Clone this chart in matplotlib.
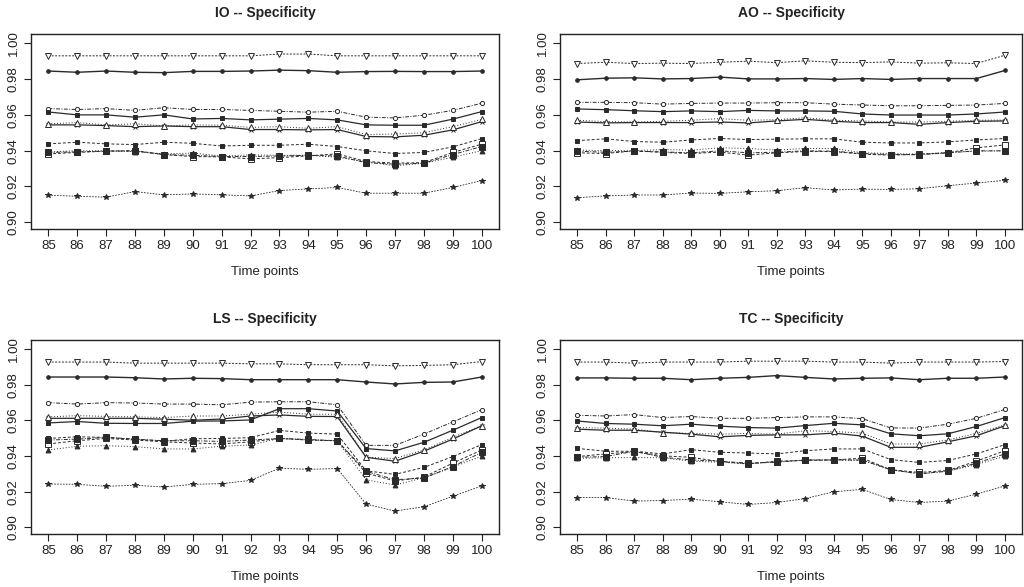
import matplotlib
matplotlib.use("Agg")
import matplotlib.pyplot as plt

plt.rcParams['font.family'] = ['Liberation Sans', 'DejaVu Sans']

time_points = list(range(85, 101))
y_ticks = [0.90, 0.92, 0.94, 0.96, 0.98, 1.00]
panel_titles = ["IO -- Specificity", "AO -- Specificity", "LS -- Specificity", "TC -- Specificity"]
x_label = "Time points"

# ---------------- IO ----------------
io_a = [0.993, 0.993, 0.993, 0.993, 0.993, 0.993, 0.993, 0.993, 0.994, 0.994, 0.993, 0.993, 0.993, 0.993, 0.993, 0.993]
io_b = [0.9845, 0.9838, 0.9845, 0.9838, 0.9836, 0.9843, 0.9843, 0.9845, 0.985, 0.9847, 0.9838, 0.9842, 0.9843, 0.9842, 0.9842, 0.9845]
io_c = [0.9635, 0.963, 0.9635, 0.9625, 0.964, 0.963, 0.963, 0.9625, 0.962, 0.9615, 0.962, 0.9587, 0.9583, 0.9598, 0.9625, 0.9665]
io_d = [0.9616, 0.960, 0.960, 0.9587, 0.960, 0.9577, 0.958, 0.9572, 0.9576, 0.958, 0.9572, 0.9544, 0.9542, 0.9542, 0.9576, 0.9618]
io_e = [0.9544, 0.9544, 0.954, 0.9534, 0.9538, 0.9534, 0.9534, 0.9518, 0.9518, 0.9516, 0.9518, 0.9479, 0.9477, 0.9486, 0.9516, 0.9562]
io_f = [0.955, 0.9557, 0.9544, 0.955, 0.9538, 0.9544, 0.9542, 0.953, 0.9534, 0.9525, 0.9534, 0.949, 0.9493, 0.950, 0.9534, 0.9575]
io_g = [0.9438, 0.9447, 0.9438, 0.9434, 0.9447, 0.9441, 0.9426, 0.943, 0.943, 0.9436, 0.9423, 0.9399, 0.9384, 0.939, 0.9421, 0.9467]
io_h = [0.9382, 0.939, 0.9397, 0.940, 0.9378, 0.9367, 0.9365, 0.9354, 0.9361, 0.9371, 0.9382, 0.9339, 0.933, 0.9333, 0.939, 0.9436]
io_i = [0.9393, 0.940, 0.9398, 0.9395, 0.9382, 0.9386, 0.937, 0.9376, 0.9374, 0.9374, 0.9363, 0.9339, 0.9315, 0.933, 0.9363, 0.940]
io_j = [0.939, 0.9393, 0.9398, 0.9398, 0.9378, 0.9374, 0.9367, 0.9367, 0.937, 0.9374, 0.937, 0.9333, 0.9324, 0.933, 0.9378, 0.9423]
io_k = [0.9151, 0.9145, 0.914, 0.9171, 0.9153, 0.9158, 0.9153, 0.9147, 0.9177, 0.9186, 0.9194, 0.9162, 0.9162, 0.9162, 0.9194, 0.9233]

# ---------------- AO ----------------
ao_a = [0.9887, 0.9894, 0.9887, 0.9889, 0.9887, 0.9894, 0.990, 0.9892, 0.9902, 0.9894, 0.9892, 0.9896, 0.9889, 0.9891, 0.9887, 0.9933]
ao_b = [0.9796, 0.9805, 0.9807, 0.9801, 0.9803, 0.9811, 0.9801, 0.9801, 0.9803, 0.9798, 0.9803, 0.9798, 0.9803, 0.9803, 0.9803, 0.9848]
ao_c = [0.967, 0.967, 0.9668, 0.966, 0.9664, 0.9666, 0.9666, 0.9668, 0.9668, 0.966, 0.9655, 0.9651, 0.9651, 0.9653, 0.9655, 0.9664]
ao_d = [0.9633, 0.9629, 0.9623, 0.9618, 0.9622, 0.9618, 0.9625, 0.9622, 0.9622, 0.962, 0.9605, 0.9599, 0.9599, 0.9599, 0.9605, 0.9616]
ao_e = [0.956, 0.9555, 0.9557, 0.9557, 0.9557, 0.956, 0.9555, 0.9566, 0.9575, 0.9564, 0.9557, 0.9557, 0.9547, 0.9557, 0.9564, 0.9566]
ao_f = [0.957, 0.9562, 0.956, 0.9564, 0.957, 0.9579, 0.957, 0.9573, 0.9584, 0.957, 0.9566, 0.956, 0.956, 0.9564, 0.957, 0.9571]
ao_g = [0.9456, 0.9466, 0.9451, 0.9447, 0.946, 0.9468, 0.9462, 0.9464, 0.9466, 0.9466, 0.9447, 0.9443, 0.9443, 0.9449, 0.946, 0.9468]
ao_h = [0.9388, 0.9384, 0.9399, 0.939, 0.9384, 0.9392, 0.9375, 0.9388, 0.9395, 0.9395, 0.938, 0.9375, 0.938, 0.9388, 0.9416, 0.9432]
ao_i = [0.9403, 0.940, 0.940, 0.9406, 0.9403, 0.9416, 0.9412, 0.9403, 0.9412, 0.9412, 0.9388, 0.9384, 0.938, 0.939, 0.9397, 0.9399]
ao_j = [0.9397, 0.9391, 0.9397, 0.9393, 0.9388, 0.9399, 0.9388, 0.9391, 0.9399, 0.9397, 0.9384, 0.9378, 0.9377, 0.9388, 0.9399, 0.9399]
ao_k = [0.9137, 0.9147, 0.9152, 0.9152, 0.9163, 0.9161, 0.917, 0.9176, 0.9193, 0.918, 0.9185, 0.9183, 0.9187, 0.9204, 0.9219, 0.9234]

# ---------------- LS ----------------
ls_a = [0.9928, 0.9928, 0.9928, 0.9922, 0.9922, 0.9922, 0.9922, 0.9918, 0.9918, 0.9913, 0.9913, 0.9913, 0.9907, 0.9909, 0.9913, 0.9931]
ls_b = [0.9844, 0.9844, 0.9844, 0.984, 0.9833, 0.9837, 0.9835, 0.9829, 0.9829, 0.9829, 0.9829, 0.9816, 0.9805, 0.9814, 0.9816, 0.9844]
ls_c = [0.970, 0.9692, 0.970, 0.9698, 0.9692, 0.9692, 0.9688, 0.9703, 0.9705, 0.9705, 0.9688, 0.946, 0.946, 0.9523, 0.9592, 0.966]
ls_d = [0.9586, 0.9594, 0.9584, 0.9583, 0.9583, 0.9596, 0.9597, 0.9603, 0.9666, 0.9666, 0.9653, 0.9442, 0.9429, 0.9477, 0.9545, 0.9616]
ls_e = [0.9612, 0.9612, 0.9612, 0.9612, 0.9607, 0.9601, 0.9608, 0.9625, 0.9631, 0.9623, 0.9622, 0.9393, 0.9371, 0.9427, 0.9495, 0.957]
ls_f = [0.962, 0.9627, 0.9623, 0.962, 0.9616, 0.9625, 0.9625, 0.9635, 0.9647, 0.9635, 0.9635, 0.9393, 0.9386, 0.9434, 0.9505, 0.9571]
ls_g = [0.9499, 0.9508, 0.9505, 0.9494, 0.9484, 0.9497, 0.9499, 0.9503, 0.9544, 0.9529, 0.9523, 0.9317, 0.9297, 0.9336, 0.9397, 0.9464]
ls_h = [0.9468, 0.9486, 0.9499, 0.949, 0.948, 0.9473, 0.9468, 0.948, 0.9499, 0.949, 0.9486, 0.9304, 0.926, 0.9282, 0.936, 0.9434]
ls_i = [0.9434, 0.9455, 0.9458, 0.9453, 0.944, 0.944, 0.9455, 0.9462, 0.9499, 0.949, 0.9486, 0.9267, 0.9237, 0.9278, 0.9338, 0.9399]
ls_j = [0.949, 0.9495, 0.9505, 0.9495, 0.9486, 0.9486, 0.9482, 0.949, 0.9499, 0.9493, 0.9486, 0.9314, 0.9267, 0.9276, 0.9341, 0.9421]
ls_k = [0.9243, 0.9241, 0.923, 0.9236, 0.9226, 0.9241, 0.9245, 0.9263, 0.9332, 0.9325, 0.933, 0.913, 0.9091, 0.9115, 0.9174, 0.9232]

# ---------------- TC ----------------
tc_a = [0.9928, 0.9928, 0.9922, 0.9928, 0.9928, 0.9928, 0.9933, 0.9933, 0.9933, 0.9928, 0.9928, 0.9922, 0.9928, 0.9928, 0.9928, 0.9931]
tc_b = [0.9839, 0.9839, 0.9837, 0.9837, 0.9829, 0.9837, 0.9842, 0.9852, 0.9842, 0.9833, 0.9837, 0.9839, 0.9829, 0.9837, 0.9837, 0.9844]
tc_c = [0.9629, 0.9625, 0.9633, 0.9616, 0.9622, 0.9612, 0.9612, 0.9616, 0.962, 0.962, 0.961, 0.9558, 0.9557, 0.9579, 0.9612, 0.9662]
tc_d = [0.9597, 0.9583, 0.9579, 0.957, 0.9579, 0.9568, 0.956, 0.9557, 0.9571, 0.9584, 0.9575, 0.9525, 0.9514, 0.9525, 0.9566, 0.9616]
tc_e = [0.9551, 0.9545, 0.9545, 0.9534, 0.9523, 0.9508, 0.9516, 0.9519, 0.9519, 0.9529, 0.9512, 0.9449, 0.9449, 0.948, 0.9514, 0.957]
tc_f = [0.956, 0.9557, 0.9551, 0.9532, 0.9527, 0.9523, 0.9527, 0.9523, 0.9542, 0.9538, 0.9529, 0.9468, 0.9468, 0.949, 0.9527, 0.9575]
tc_g = [0.9443, 0.9427, 0.9427, 0.9412, 0.9436, 0.9421, 0.9417, 0.9412, 0.943, 0.944, 0.944, 0.938, 0.9364, 0.9375, 0.9412, 0.9464]
tc_h = [0.9397, 0.9412, 0.9425, 0.9401, 0.9393, 0.9369, 0.9356, 0.9371, 0.9375, 0.9378, 0.9388, 0.9323, 0.9308, 0.9319, 0.9371, 0.943]
tc_i = [0.9388, 0.939, 0.9392, 0.939, 0.9371, 0.9365, 0.9356, 0.9369, 0.9378, 0.9378, 0.9375, 0.9323, 0.930, 0.9315, 0.9352, 0.9399]
tc_j = [0.9393, 0.9397, 0.9427, 0.9393, 0.9378, 0.9371, 0.936, 0.9365, 0.9378, 0.9378, 0.9378, 0.9323, 0.930, 0.9315, 0.936, 0.9412]
tc_k = [0.9167, 0.9167, 0.9147, 0.915, 0.9158, 0.9143, 0.9128, 0.9139, 0.9161, 0.9199, 0.9213, 0.9156, 0.9139, 0.9147, 0.9186, 0.9232]

panel_series = [
    [io_a, io_b, io_c, io_d, io_e, io_f, io_g, io_h, io_i, io_j, io_k],
    [ao_a, ao_b, ao_c, ao_d, ao_e, ao_f, ao_g, ao_h, ao_i, ao_j, ao_k],
    [ls_a, ls_b, ls_c, ls_d, ls_e, ls_f, ls_g, ls_h, ls_i, ls_j, ls_k],
    [tc_a, tc_b, tc_c, tc_d, tc_e, tc_f, tc_g, tc_h, tc_i, tc_j, tc_k],
]

# styles per series (marker, filled, linestyle, markersize, linewidth)
ink = '#2a2a2a'
series_styles = [
    ('v', False, (0, (2, 1.5)), 5.0, 0.7),
    ('o', True, '-', 2.6, 1.0),
    ('o', False, (0, (4, 1.5, 1, 1.5)), 3.0, 0.7),
    ('s', True, '-', 3.2, 0.9),
    ('x', True, '-', 3.5, 0.9),
    ('^', False, (0, (1, 2)), 4.5, 0.7),
    ('s', True, (0, (3, 2)), 3.2, 0.7),
    ('s', False, (0, (3, 2)), 4.0, 0.7),
    ('^', True, (0, (1, 2)), 3.5, 0.7),
    ('s', True, (0, (4, 1.5, 1, 1.5)), 4.0, 0.7),
    ('*', True, (0, (2, 1.5)), 4.0, 0.6),
]

fig = plt.figure(figsize=(10.24, 5.87), dpi=100)
W, H = 1024.0, 587.0
# axes boxes in pixels: (left, top, right, bottom)
boxes = [
    (31, 34, 499, 229),
    (560, 34, 1022, 229),
    (31, 340, 499, 534),
    (560, 340, 1022, 534),
]

for box, title, series in zip(boxes, panel_titles, panel_series):
    l, t, r, b = box
    ax = fig.add_axes([l / W, 1 - b / H, (r - l) / W, (b - t) / H])
    for vals, (mk, filled, ls, ms, lw) in zip(series, series_styles):
        ax.plot(time_points, vals, color=ink, linestyle=ls, linewidth=lw,
                marker=mk, markersize=ms,
                markerfacecolor=ink if filled else 'white',
                markeredgecolor=ink, markeredgewidth=0.7)
    ax.set_xlim(84.4, 100.6)
    ax.set_ylim(0.8962, 1.0052)
    ax.set_xticks(time_points)
    ax.set_xticklabels([str(v) for v in time_points])
    ax.set_yticks(y_ticks)
    ax.set_yticklabels([f"{v:.2f}" for v in y_ticks], rotation=90, va='center')
    ax.tick_params(axis='both', labelsize=9.5, colors='#222222', length=5, width=0.8,
                   direction='out', pad=3)
    for sp in ax.spines.values():
        sp.set_linewidth(1.0)
        sp.set_color('#222222')
    ax.set_title(title, fontsize=10, fontweight='bold', color='#222222', pad=12)
    ax.set_xlabel(x_label, fontsize=9.5, color='#222222', labelpad=10)

fig.savefig("out.png", dpi=100)
